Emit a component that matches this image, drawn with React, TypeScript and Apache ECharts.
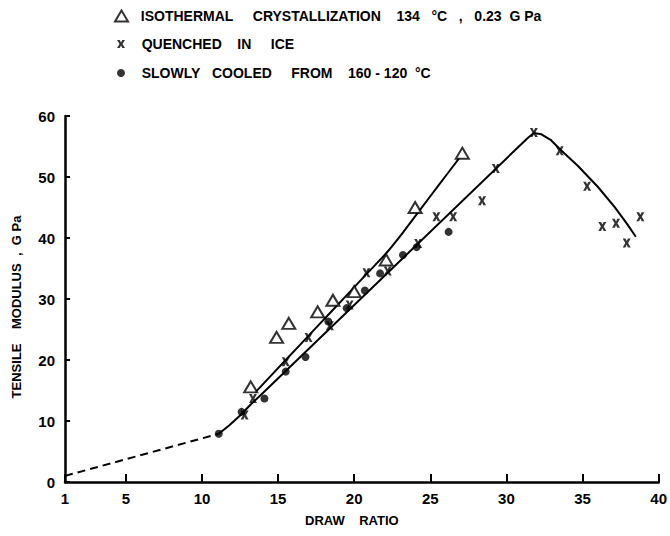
import React, { useEffect, useRef } from "react";
import * as echarts from "echarts";

// ---- data ----
const xTickValues = [1, 5, 10, 15, 20, 25, 30, 35, 40];

const isothermalName = "ISOTHERMAL CRYSTALLIZATION 134 °C , 0.23 G Pa";
const quenchedName = "QUENCHED IN ICE";
const slowName = "SLOWLY COOLED FROM 160-120 °C";

const isothermalPts: [number, number][] = [
  [13.2, 15.6], [14.9, 23.7], [15.7, 26.0], [17.6, 27.9], [18.6, 29.8],
  [20.0, 31.2], [22.1, 36.4], [24.0, 45.0], [27.1, 53.9],
];

const quenchedPts: [number, number][] = [
  [12.8, 11.0], [13.35, 13.7], [15.5, 19.7], [17.0, 23.7], [18.4, 25.6],
  [19.7, 29.0], [20.8, 34.3], [22.2, 34.6], [24.2, 39.1], [25.4, 43.5],
  [26.5, 43.5], [28.4, 46.1], [29.3, 51.4], [31.8, 57.3], [33.5, 54.3],
  [35.3, 48.5], [36.3, 41.9], [37.2, 42.4], [37.9, 39.2], [38.8, 43.5],
];

const slowPts: [number, number][] = [
  [11.1, 7.9], [12.6, 11.5], [14.1, 13.7], [15.5, 18.1], [16.8, 20.5],
  [18.3, 26.3], [19.5, 28.5], [20.7, 31.4], [21.7, 34.2], [23.2, 37.2],
  [24.1, 38.5], [26.2, 41.0],
];

// hand-drawn fit curves of the figure
const dashedCurve: [number, number][] = [[1, 1.0], [11.1, 7.9]];
const upperCurve: [number, number][] = [
  [13.5, 14.7], [15.5, 20.0], [17.5, 25.3], [19.5, 30.6], [21.0, 34.6],
  [22.1, 37.5], [23.2, 40.9], [24.2, 44.2], [25.5, 48.5], [26.9, 53.1],
];
const lowerCurve: [number, number][] = [
  [11.1, 7.9], [11.8, 9.3], [12.5, 10.9], [13.2, 12.7], [14.0, 14.6],
  [31.4, 56.4], [31.8, 57.2], [32.3, 57.0], [32.9, 56.1], [33.5, 54.6],
  [34.7, 51.8], [36.0, 48.4], [37.1, 45.1], [37.9, 42.4], [38.5, 40.2],
];

const FONT = "'Liberation Sans', Arial, sans-serif";
const NB = "\u00A0";
const sp = (n: number) => NB.repeat(n);

const legendLabels: Record<string, string> = {
  [isothermalName]:
    sp(2) + "ISOTHERMAL" + sp(5) + "CRYSTALLIZATION" + sp(4) + "134" + sp(3) + "°C" + sp(3) + "," + sp(3) + "0.23" + sp(2) + "G" + sp(1) + "Pa",
  [quenchedName]: sp(3) + "QUENCHED" + sp(4) + "IN" + sp(5) + "ICE",
  [slowName]: sp(3) + "SLOWLY" + sp(3) + "COOLED" + sp(5) + "FROM" + sp(4) + "160" + sp(1) + "-" + sp(1) + "120" + sp(2) + "°C",
};

const xMarkPath =
  "path://M0,0 L3.4,0 L5,3 L6.6,0 L10,0 L6.8,5 L10,10 L6.6,10 L5,7 L3.4,10 L0,10 L3.2,5 Z";

export default function App() {
  const ref = useRef<HTMLDivElement>(null);

  useEffect(() => {
    document.body.style.margin = "0";
    if (!ref.current) return;
    const chart = echarts.init(ref.current, undefined, { renderer: "svg" });
    const legendText = {
      fontFamily: FONT,
      fontSize: 14,
      fontWeight: "bold" as const,
      color: "#000",
    };
    const mkLegend = (name: string, top: number, left: number, w: number, h: number) => ({
      data: [name],
      top,
      left,
      padding: 0,
      itemWidth: w,
      itemHeight: h,
      textStyle: legendText,
      formatter: (n: string) => legendLabels[n] ?? n,
      selectedMode: false,
    });
    chart.setOption({
      animation: false,
      backgroundColor: "#fff",
      legend: [
        mkLegend(isothermalName, 9, 114, 13, 11),
        mkLegend(quenchedName, 37, 117, 8, 9),
        mkLegend(slowName, 66, 117, 8, 8),
      ],
      grid: { left: 65, right: 10, top: 116, bottom: 54, containLabel: false },
      xAxis: {
        type: "value",
        min: 1,
        max: 40,
        name: "DRAW" + sp(4) + "RATIO",
        nameLocation: "middle",
        nameGap: 32,
        nameTextStyle: { ...legendText, fontSize: 13, padding: [0, 20, 0, 0] },
        axisLine: { show: true, lineStyle: { color: "#000", width: 2.5 } },
        axisTick: {
          show: true,
          inside: true,
          length: 8,
          lineStyle: { color: "#000", width: 2 },
          customValues: xTickValues,
        },
        axisLabel: {
          customValues: xTickValues,
          fontFamily: FONT,
          fontSize: 15,
          fontWeight: "bold",
          color: "#000",
          margin: 9,
        },
        splitLine: { show: false },
      },
      yAxis: {
        type: "value",
        min: 0,
        max: 60,
        interval: 10,
        name: "TENSILE" + sp(4) + "MODULUS" + sp(2) + "," + sp(2) + "G" + sp(1) + "Pa",
        nameLocation: "middle",
        nameGap: 42,
        nameRotate: 90,
        nameTextStyle: { ...legendText, fontSize: 13, padding: [0, 16, 0, 0] },
        axisLine: { show: true, lineStyle: { color: "#000", width: 2.5 } },
        axisTick: { show: true, inside: true, length: 5, lineStyle: { color: "#000", width: 2 } },
        axisLabel: {
          fontFamily: FONT,
          fontSize: 15,
          fontWeight: "bold",
          color: "#000",
          margin: 10,
        },
        splitLine: { show: false },
      },
      series: [
        {
          type: "line",
          data: dashedCurve,
          showSymbol: false,
          symbol: "none",
          lineStyle: { color: "#000", width: 2, type: [8, 5] },
          silent: true,
          z: 1,
        },
        {
          type: "line",
          data: upperCurve,
          showSymbol: false,
          symbol: "none",
          smooth: 0.25,
          lineStyle: { color: "#000", width: 2 },
          silent: true,
          z: 1,
        },
        {
          type: "line",
          data: lowerCurve,
          showSymbol: false,
          symbol: "none",
          smooth: false,
          lineStyle: { color: "#000", width: 2, join: "round" },
          silent: true,
          z: 1,
        },
        {
          name: isothermalName,
          type: "scatter",
          data: isothermalPts,
          symbol: "triangle",
          symbolSize: [13, 11],
          itemStyle: { color: "#fff", borderColor: "#000", borderWidth: 2 },
          z: 3,
        },
        {
          name: quenchedName,
          type: "scatter",
          data: quenchedPts,
          symbol: xMarkPath,
          symbolSize: [8, 9],
          itemStyle: { color: "#000" },
          z: 4,
        },
        {
          name: slowName,
          type: "scatter",
          data: slowPts,
          symbol: "circle",
          symbolSize: 8,
          itemStyle: { color: "#000" },
          z: 4,
        },
      ],
    });
    return () => chart.dispose();
  }, []);

  return <div ref={ref} style={{ width: 670, height: 536 }} />;
}
